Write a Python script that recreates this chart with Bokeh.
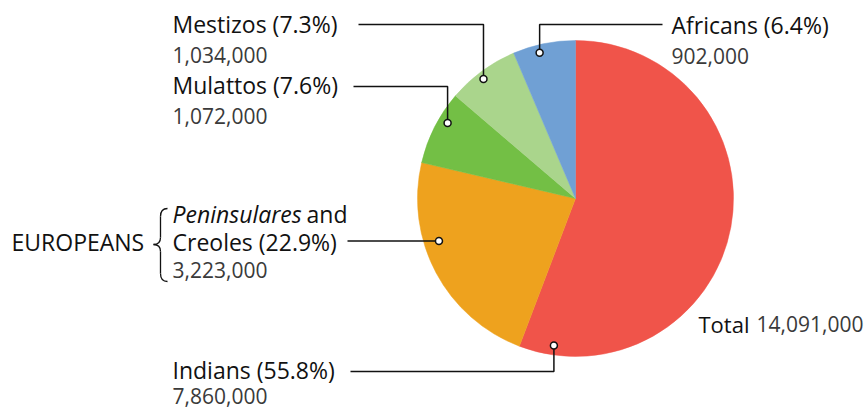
import math
from bokeh.plotting import figure
from bokeh.models import Range1d
from bokeh.core.properties import value
from bokeh.embed import file_html
from bokeh.resources import INLINE

# ---------------- data ----------------
categories = ["Indians", "Europeans", "Mulattos", "Mestizos", "Africans"]
percents = [55.8, 22.9, 7.6, 7.3, 6.4]
populations = [7860000, 3223000, 1072000, 1034000, 902000]
colors = ["#F0544A", "#EEA21E", "#73BF45", "#AAD58C", "#70A0D4"]

# ---------------- layout ----------------
W, H = 866, 409
FONT = "Open Sans"
LBL = "23px"
VAL = "21px"
TEXT_SHIFT = 8.5  # renderer draws alphabetic baseline lower than requested

def X(px):  # page pixel -> data x
    return px

def Y(py):  # page pixel -> data y
    return H - py

cx, cy, R = X(575), Y(198), 158

p = figure(width=W, height=H, output_backend="svg", toolbar_location=None,
           x_range=Range1d(0, W), y_range=Range1d(0, H), min_border=0)
p.axis.visible = False
p.grid.visible = False
p.outline_line_color = None
p.background_fill_color = "white"

# wedges, clockwise from top
total = sum(populations)
starts, ends = [], []
cum = 0.0
for v in populations:
    a0 = math.pi / 2 - 2 * math.pi * cum / total
    cum += v
    a1 = math.pi / 2 - 2 * math.pi * cum / total
    starts.append(a0)
    ends.append(a1)

p.wedge(x=[cx] * len(categories), y=[cy] * len(categories), radius=R,
        start_angle=starts, end_angle=ends, direction="clock",
        fill_color=colors, line_color=colors, line_width=0.5)

# leader anchors: fraction along each slice & fraction of radius
anchor_frac = {"Indians": 0.938, "Europeans": 0.63, "Mulattos": 0.635,
               "Mestizos": 0.45, "Africans": 0.40}
anchor_r = {"Indians": 0.94, "Europeans": 0.905, "Mulattos": 0.94,
            "Mestizos": 0.955, "Africans": 0.95}
dots = {}
for i, c in enumerate(categories):
    a = starts[i] + (ends[i] - starts[i]) * anchor_frac[c]
    r = R * anchor_r[c]
    dots[c] = (cx + r * math.cos(a), cy + r * math.sin(a))

# leader routes: (elbow y page px or None, end x page px)
routes = {"Africans": (24, 662), "Mestizos": (24, 358), "Mulattos": (86, 353),
          "Europeans": (None, 347), "Indians": (371, 350)}
for c in categories:
    dx, dy = dots[c]
    ey, ex = routes[c]
    if ey is None:
        xs, ys = [dx, X(ex)], [dy, dy]
    else:
        xs, ys = [dx, dx, X(ex)], [dy, Y(ey), Y(ey)]
    p.line(xs, ys, line_color="#111111", line_width=1.5)
p.scatter([dots[c][0] for c in categories], [dots[c][1] for c in categories],
          size=7, marker="circle", fill_color="white", line_color="#111111",
          line_width=1.5)

# label positions: (x px, label baseline px, value baseline px)
label_pos = {"Africans": (671, 32.5, 64), "Mestizos": (172, 31.5, 63),
             "Mulattos": (172, 92.5, 124), "Indians": (172, 378, 404)}

def txt(x, y, s, color="#111111", style="normal", size=LBL):
    p.text(x=[X(x)], y=[Y(y - TEXT_SHIFT)], text=[s], text_font=value(FONT),
           text_font_size=size, text_color=color, text_font_style=style,
           text_align="left", text_baseline="alphabetic")

for i, c in enumerate(categories):
    if c in label_pos:
        lx, ly, vy = label_pos[c]
        txt(lx, ly, f"{c} ({percents[i]}%)")
        txt(lx, vy, f"{populations[i]:,}", color="#3a3a3a", size=VAL)

# Europeans block
ie = categories.index("Europeans")
txt(172, 221.5, "Peninsulares", style="italic")
txt(306, 221.5, "and")
txt(172, 250, f"Creoles ({percents[ie]}%)")
txt(172, 278, f"{populations[ie]:,}", color="#3a3a3a", size=VAL)
txt(11, 250, "EUROPEANS")

# brace
bx = [(167, 208, 160, 216, 160, 208), (153, 244, 160, 237, 160, 244),
      (153, 244, 160, 251, 160, 244), (160, 273, 167, 281, 160, 281)]
p.quadratic(x0=[X(b[0]) for b in bx], y0=[Y(b[1]) for b in bx],
            x1=[X(b[2]) for b in bx], y1=[Y(b[3]) for b in bx],
            cx=[X(b[4]) for b in bx], cy=[Y(b[5]) for b in bx],
            line_color="#111111", line_width=1.3)
p.segment(x0=[X(160), X(160)], y0=[Y(216), Y(251)],
          x1=[X(160), X(160)], y1=[Y(237), Y(273)],
          line_color="#111111", line_width=1.3)

# total
txt(698, 332, "Total", size="22px")
txt(756, 332, f"{total:,}", color="#3a3a3a", size=VAL)

open("out.html", "w").write(file_html(p, INLINE))
